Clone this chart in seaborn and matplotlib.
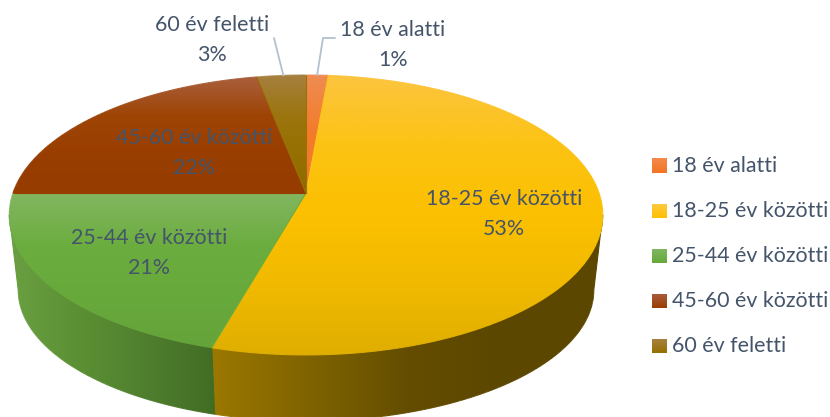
import numpy as np
import matplotlib
matplotlib.use("Agg")
import matplotlib.pyplot as plt
from matplotlib.path import Path
from matplotlib.patches import PathPatch
from matplotlib.collections import LineCollection
import seaborn as sns

# data
categories = ["18 év alatti", "18-25 év közötti", "25-44 év közötti", "45-60 év közötti", "60 év feletti"]
values = [1.4, 53.0, 20.6, 21.9, 3.1]

# gradient stops per slice
top_stops = [
    ["#ef8c52", "#f37b2a", "#f27a26"],
    ["#fcc53f", "#fcc314", "#fbc000", "#f1ba00", "#dfae00"],
    ["#82b660", "#6cad40", "#68a93c", "#64a339"],
    ["#aa5f3d", "#9e4506", "#993e00", "#963c00"],
    ["#a6803f", "#9c7510", "#967000", "#8e6a00"],
]
side_stops = [
    ["#8a4a20", "#7a4018"],
    ["#9c7800", "#7f6300", "#644d00", "#5c4700", "#5c4700"],
    ["#6a9f42", "#5c9034", "#4f7f2e", "#426c24"],
    ["#6b2c00", "#5c2600"],
    ["#6b5000", "#5c4700"],
]
legend_stops = [
    ["#f28a4c", "#f37522"],
    ["#fdc840", "#ffc000"],
    ["#7fb860", "#66a83a"],
    ["#a85c3c", "#993e00"],
    ["#a6813f", "#967000"],
]

# label centres in pixels (name line)
label_pos = [(393, 30), (504, 199), (149, 238), (194, 138), (212, 25)]
text_col = "#44546a"

sns.set_theme(style="white")
plt.rcParams["font.family"] = ["Lato", "DejaVu Sans"]

# perspective pie, fitted to the picture
cx, cy = 306, 193
a, b, k = 293.0, 136.5, 0.157
top_mid, low_mid = 215.0, 290.0
xscale, yscale = 0.97, 0.936


def project(theta, lower=False):
    u, v = np.sin(theta), np.cos(theta)
    w = 1 + k * v
    x, y = cx + a * u / w, cy - b * v / w
    if lower:
        return cx + xscale * (x - cx), low_mid + yscale * (y - top_mid)
    return x, y


def gradient_fill(ax, xs, ys, stops, vertical, z):
    cmap = sns.blend_palette(stops, n_colors=256, as_cmap=True)
    grad = np.linspace(0, 1, 256)
    grad = grad.reshape(-1, 1) if vertical else grad.reshape(1, -1)
    im = ax.imshow(grad, cmap=cmap, aspect="auto", origin="upper",
                   extent=(min(xs), max(xs), max(ys), min(ys)), zorder=z)
    verts = np.column_stack([np.append(xs, xs[0]), np.append(ys, ys[0])])
    patch = PathPatch(Path(verts), transform=ax.transData, fc="none", ec="none")
    ax.add_patch(patch)
    im.set_clip_path(patch)
    # soften the hard edge of the clipped image, colour follows the gradient
    along = verts[:, 1] if vertical else verts[:, 0]
    pos = (along - along.min()) / (along.max() - along.min())
    segs = np.stack([verts[:-1], verts[1:]], axis=1)
    lc = LineCollection(segs, colors=cmap((pos[:-1] + pos[1:]) / 2), linewidths=0.8, zorder=z + 0.1)
    ax.add_collection(lc)


fig = plt.figure(figsize=(8.3, 4.17), dpi=100)
ax = fig.add_axes([0, 0, 1, 1])

edges = np.cumsum([0] + values) / sum(values) * 2 * np.pi

# only the front of the rim can be seen
front_start = np.arccos(-k)
front_end = 2 * np.pi - front_start

# sides first, top faces over them
for i in range(len(values)):
    lo, hi = max(edges[i], front_start), min(edges[i + 1], front_end)
    if hi <= lo:
        continue
    t = np.linspace(lo, hi, 200)
    x1, y1 = project(t)
    x2, y2 = project(t, lower=True)
    xs = np.concatenate([x1, x2[::-1]])
    ys = np.concatenate([y1, y2[::-1]])
    gradient_fill(ax, xs, ys, side_stops[i], False, 1 + i * 0.2)

for i in range(len(values)):
    t = np.linspace(edges[i], edges[i + 1], 200)
    x1, y1 = project(t)
    xs = np.concatenate([[cx], x1])
    ys = np.concatenate([[cy], y1])
    gradient_fill(ax, xs, ys, top_stops[i], True, 4 + i * 0.2)

# data labels
for i, (name, (lx, ly)) in enumerate(zip(categories, label_pos)):
    pct = f"{round(values[i])}%"
    ax.text(lx, ly, name, ha="center", va="center", fontsize=15.4, color=text_col, zorder=8)
    ax.text(lx, ly + 30, pct, ha="center", va="center", fontsize=15.4, color=text_col, zorder=8)

# leader lines for the two thin slices
mid0 = (edges[0] + edges[1]) / 2
mid4 = (edges[4] + edges[5]) / 2
px, py = project(mid0)
ax.plot([px, 323, 335], [py, 38, 38], color="#b4c0cf", lw=1.3, zorder=7)
px, py = project(mid4)
ax.plot([px + 2, 274], [py, 38], color="#b4c0cf", lw=1.3, zorder=7)

# legend
for i, name in enumerate(categories):
    ly = 166 + i * 45
    ax.imshow(np.linspace(0, 1, 64).reshape(-1, 1),
              cmap=sns.blend_palette(legend_stops[i], n_colors=64, as_cmap=True),
              aspect="auto", origin="upper", extent=(652, 667, ly + 7, ly - 7), zorder=5)
    ax.text(672, ly, name, ha="left", va="center", fontsize=15.4, color=text_col, zorder=8)

ax.set_xlim(0, 830)
ax.set_ylim(417, 0)
ax.axis("off")
fig.savefig("out.png", dpi=100, facecolor="white")
